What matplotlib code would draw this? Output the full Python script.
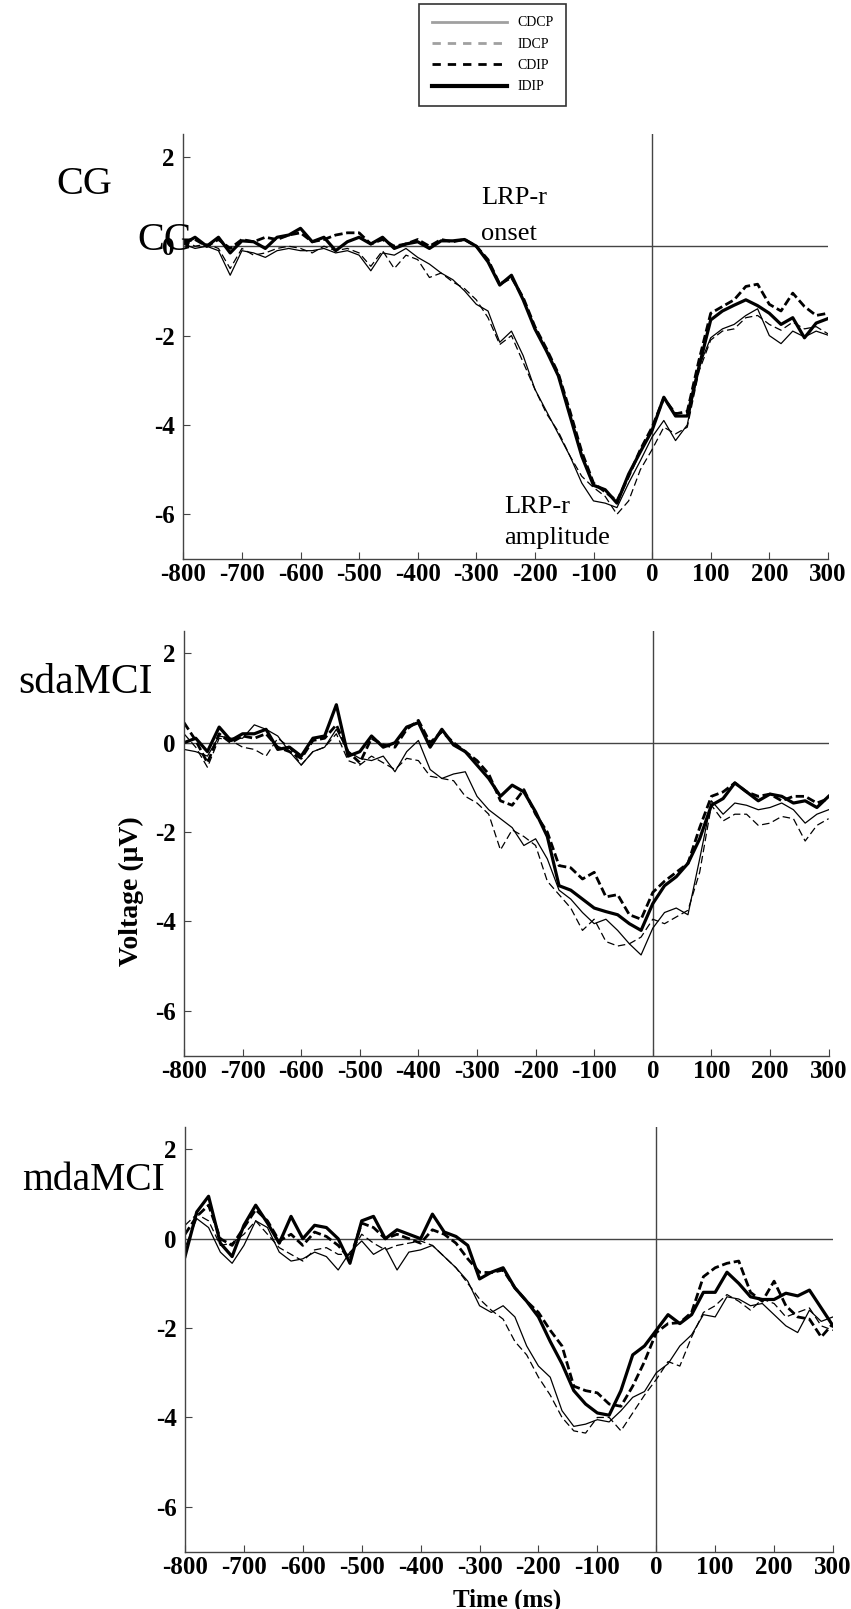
import numpy as np
import matplotlib.pyplot as plt
from matplotlib.lines import Line2D

plt.rcParams['font.family'] = ['Liberation Serif', 'DejaVu Serif']
plt.rcParams['axes.unicode_minus'] = False

# time axis (ms), response-locked
time_ms = np.arange(-800, 301, 20)

# ---- CG ----
cg_cdcp = [0.05, -0.05, 0.0, -0.1, -0.65, -0.1, -0.15, -0.25, -0.1, -0.05, -0.1, -0.1, -0.05, -0.15, -0.1, -0.2,
           -0.55, -0.15, -0.2, -0.05, -0.25, -0.4, -0.6, -0.75, -1.0, -1.3, -1.45, -2.15, -1.9, -2.45, -3.2, -3.7,
           -4.2, -4.7, -5.3, -5.7, -5.75, -5.85, -5.3, -4.8, -4.27, -3.9, -4.35, -4.0, -2.7, -2.05, -1.85, -1.75,
           -1.55, -1.4, -2.0, -2.18, -1.9, -2.03, -1.9, -1.99]
cg_idcp = [0.15, 0.0, 0.05, -0.05, -0.5, -0.05, -0.2, -0.15, -0.05, 0.0, -0.05, -0.15, 0.0, -0.1, -0.05, -0.15,
           -0.45, -0.1, -0.5, -0.2, -0.3, -0.7, -0.6, -0.8, -0.95, -1.2, -1.6, -2.2, -2.0, -2.6, -3.2, -3.75,
           -4.15, -4.7, -5.15, -5.4, -5.6, -6.0, -5.7, -5.0, -4.55, -4.05, -4.2, -4.05, -2.8, -2.1, -1.9, -1.85,
           -1.6, -1.55, -1.75, -1.88, -1.7, -1.85, -1.8, -1.96]
cg_cdip = [0.1, 0.15, 0.0, 0.15, -0.05, 0.15, 0.1, 0.2, 0.15, 0.25, 0.3, 0.1, 0.15, 0.25, 0.3, 0.3,
           0.05, 0.15, 0.0, 0.05, 0.15, 0.0, 0.15, 0.1, 0.15, 0.0, -0.3, -0.85, -0.7, -1.15, -1.8, -2.3,
           -2.85, -3.7, -4.6, -5.3, -5.5, -5.7, -5.15, -4.55, -4.05, -3.4, -3.75, -3.7, -2.55, -1.5, -1.35, -1.2,
           -0.9, -0.85, -1.3, -1.45, -1.05, -1.35, -1.55, -1.5]
cg_idip = [0.05, 0.2, 0.0, 0.2, -0.15, 0.12, 0.1, -0.05, 0.2, 0.25, 0.4, 0.1, 0.2, -0.1, 0.1, 0.2,
           0.05, 0.2, -0.05, 0.05, 0.1, -0.05, 0.12, 0.12, 0.15, 0.0, -0.35, -0.87, -0.65, -1.2, -1.85, -2.35,
           -2.9, -3.8, -4.7, -5.35, -5.45, -5.75, -5.1, -4.6, -4.12, -3.38, -3.8, -3.8, -2.7, -1.65, -1.45, -1.32,
           -1.2, -1.33, -1.5, -1.75, -1.6, -2.05, -1.72, -1.62]

# ---- sdaMCI ----
sda_cdcp = [-0.15, -0.2, -0.3, 0.15, 0.1, 0.1, 0.4, 0.3, 0.15, -0.2, -0.5, -0.2, -0.1, 0.3, -0.2, -0.35,
            -0.4, -0.3, -0.65, -0.2, 0.05, -0.6, -0.8, -0.7, -0.65, -1.2, -1.5, -1.7, -1.9, -2.3, -2.15, -2.6,
            -3.3, -3.5, -3.8, -4.05, -3.95, -4.2, -4.5, -4.75, -4.15, -3.8, -3.7, -3.85, -2.6, -1.3, -1.6, -1.35,
            -1.4, -1.5, -1.45, -1.35, -1.5, -1.8, -1.6, -1.5]
sda_idcp = [0.2, -0.1, -0.55, 0.1, 0.05, -0.1, -0.15, -0.3, 0.1, -0.1, -0.5, -0.2, -0.1, 0.2, -0.4, -0.5,
            -0.3, -0.45, -0.6, -0.35, -0.4, -0.75, -0.8, -0.85, -1.2, -1.35, -1.6, -2.4, -1.95, -2.1, -2.3, -3.1,
            -3.4, -3.7, -4.2, -3.95, -4.45, -4.55, -4.5, -4.35, -3.95, -4.05, -3.9, -3.75, -2.9, -1.4, -1.75, -1.6,
            -1.6, -1.85, -1.8, -1.65, -1.7, -2.2, -1.85, -1.7]
sda_cdip = [0.45, 0.05, -0.45, 0.2, 0.0, 0.15, 0.1, 0.2, -0.1, -0.2, -0.35, 0.05, 0.1, 0.4, -0.2, -0.45,
            0.1, -0.05, -0.1, 0.3, 0.5, 0.0, 0.25, 0.0, -0.2, -0.4, -0.7, -1.3, -1.4, -1.05, -1.6, -2.0,
            -2.75, -2.8, -3.05, -2.9, -3.45, -3.4, -3.85, -3.95, -3.35, -3.1, -2.9, -2.7, -1.9, -1.2, -1.1, -0.9,
            -1.1, -1.2, -1.15, -1.3, -1.2, -1.2, -1.35, -1.25]
sda_idip = [0.0, 0.1, -0.2, 0.35, 0.05, 0.2, 0.2, 0.3, -0.15, -0.1, -0.3, 0.1, 0.15, 0.85, -0.3, -0.2,
            0.15, -0.1, 0.0, 0.35, 0.45, -0.1, 0.3, -0.05, -0.2, -0.5, -0.8, -1.2, -0.95, -1.1, -1.55, -2.1,
            -3.2, -3.3, -3.5, -3.7, -3.78, -3.85, -4.05, -4.2, -3.6, -3.2, -3.0, -2.7, -2.15, -1.4, -1.25, -0.9,
            -1.1, -1.3, -1.15, -1.2, -1.35, -1.3, -1.45, -1.2]

# ---- mdaMCI ----
mda_cdcp = [-0.2, 0.45, 0.25, -0.3, -0.55, -0.15, 0.4, 0.25, -0.3, -0.5, -0.45, -0.3, -0.4, -0.7, -0.3, -0.05,
            -0.35, -0.2, -0.7, -0.3, -0.25, -0.15, -0.4, -0.65, -0.95, -1.5, -1.65, -1.5, -1.75, -2.4, -2.85, -3.1,
            -3.85, -4.2, -4.15, -4.05, -4.1, -3.85, -3.55, -3.42, -3.0, -2.8, -2.4, -2.15, -1.7, -1.75, -1.3, -1.35,
            -1.5, -1.45, -1.7, -1.95, -2.1, -1.6, -1.85, -1.75]
mda_idcp = [0.3, 0.55, 0.4, -0.15, -0.1, 0.1, 0.4, 0.1, -0.2, -0.35, -0.5, -0.25, -0.2, -0.35, -0.35, 0.1,
            -0.1, -0.25, -0.15, -0.1, -0.05, -0.15, -0.4, -0.65, -1.0, -1.35, -1.6, -1.8, -2.3, -2.6, -3.1, -3.5,
            -4.0, -4.3, -4.35, -4.0, -4.0, -4.3, -3.9, -3.5, -3.15, -2.75, -2.85, -2.2, -1.65, -1.5, -1.25, -1.4,
            -1.6, -1.35, -1.45, -1.75, -1.65, -1.55, -1.95, -2.05]
mda_cdip = [0.1, 0.5, 0.75, 0.0, -0.15, 0.25, 0.65, 0.4, -0.05, 0.1, -0.15, 0.15, 0.05, -0.15, -0.45, 0.35,
            0.25, 0.0, 0.1, 0.0, -0.1, 0.2, 0.1, -0.1, -0.45, -0.75, -0.76, -0.7, -1.1, -1.4, -1.65, -2.05,
            -2.4, -3.3, -3.4, -3.45, -3.7, -3.75, -3.3, -2.75, -2.1, -1.9, -1.88, -1.65, -0.85, -0.65, -0.55, -0.5,
            -1.2, -1.4, -0.95, -1.5, -1.75, -1.8, -2.2, -1.9]
mda_idip = [-0.4, 0.6, 0.95, -0.1, -0.4, 0.3, 0.75, 0.35, -0.1, 0.5, 0.0, 0.3, 0.25, 0.0, -0.55, 0.4,
            0.5, 0.0, 0.2, 0.1, 0.0, 0.55, 0.15, 0.05, -0.15, -0.9, -0.75, -0.65, -1.1, -1.4, -1.75, -2.3,
            -2.8, -3.4, -3.7, -3.9, -3.95, -3.4, -2.6, -2.4, -2.05, -1.7, -1.9, -1.7, -1.2, -1.2, -0.75, -1.0,
            -1.3, -1.36, -1.36, -1.22, -1.28, -1.15, -1.55, -1.95]

groups = ['CG', 'sdaMCI', 'mdaMCI']
conditions = ['CDCP', 'IDCP', 'CDIP', 'IDIP']
data = [[cg_cdcp, cg_idcp, cg_cdip, cg_idip],
        [sda_cdcp, sda_idcp, sda_cdip, sda_idip],
        [mda_cdcp, mda_idcp, mda_cdip, mda_idip]]

# line styles on the plots (all black)
styles = [dict(ls='-', lw=0.9), dict(ls=(0, (6, 3)), lw=0.9),
          dict(ls=(0, (3, 1.3)), lw=2.0), dict(ls='-', lw=2.3)]

W, H = 851, 1609
fig = plt.figure(figsize=(W / 100, H / 100), dpi=100)

rects = [[183.3 / W, 1 - 559 / H, 644.6 / W, 424.5 / H],
         [184.0 / W, 1 - 1055.5 / H, 644.6 / W, 424.5 / H],
         [185.0 / W, 1 - 1551.5 / H, 648.0 / W, 424.5 / H]]

for i in range(3):
    ax = fig.add_axes(rects[i])
    for vals, st in zip(data[i], styles):
        ax.plot(time_ms, vals, color='black', **st)
    ax.axhline(0, color='#444444', lw=1.0, zorder=0)
    ax.axvline(0, color='#444444', lw=1.0, zorder=0)
    ax.set_xlim(-800, 300)
    ax.set_ylim(-7, 2.5)
    ax.set_xticks(np.arange(-800, 301, 100))
    ax.set_yticks([-6, -4, -2, 0, 2])
    ax.tick_params(direction='in', length=5, width=0.8, color='#444444', labelsize=18)
    ax.tick_params(axis='x', pad=3)
    ax.tick_params(axis='y', pad=6)
    plt.setp(ax.get_xticklabels() + ax.get_yticklabels(), fontweight='bold')
    for s in ['top', 'right']:
        ax.spines[s].set_visible(False)
    for s in ['left', 'bottom']:
        ax.spines[s].set_color('#444444')
        ax.spines[s].set_linewidth(1.0)
    if i == 0:
        ax.text(-292, 1.07, 'LRP-r', fontsize=19, va='center', ha='left')
        ax.text(-292, 0.27, 'onset', fontsize=19, va='center', ha='left')
        ax.text(-252, -5.83, 'LRP-r', fontsize=19, va='center', ha='left')
        ax.text(-252, -6.52, 'amplitude', fontsize=19, va='center', ha='left')

# group labels
fig.text(56 / W, 1 - 185 / H, 'CG', fontsize=29, va='center', ha='left')
fig.text(137 / W, 1 - 240 / H, 'CG', fontsize=29, va='center', ha='left')
fig.text(18 / W, 1 - 683 / H, 'sdaMCI', fontsize=30, va='center', ha='left')
fig.text(22 / W, 1 - 1181 / H, 'mdaMCI', fontsize=28.5, va='center', ha='left')

fig.text(131 / W, 1 - 891 / H, 'Voltage (\u03bcV)', fontsize=20, fontweight='bold',
         rotation=90, va='center', ha='center')
fig.text(507 / W, 1 - 1600 / H, 'Time (ms)', fontsize=18, fontweight='bold',
         va='center', ha='center')

# legend
handles = [Line2D([], [], color='#a0a0a0', lw=2.0, ls='-'),
           Line2D([], [], color='#a0a0a0', lw=2.0, ls=(0, (3, 2.5))),
           Line2D([], [], color='black', lw=2.0, ls=(0, (3, 2.5))),
           Line2D([], [], color='black', lw=3.0, ls='-')]
leg = fig.legend(handles, conditions, loc='upper left', bbox_to_anchor=(419 / W, 1 - 4 / H),
                 borderaxespad=0, frameon=True, fancybox=False, edgecolor='black', fontsize=10,
                 handlelength=5.4, labelspacing=0.6, borderpad=0.9, handletextpad=0.8)
leg.get_frame().set_linewidth(1.2)

fig.savefig('out.png', dpi=100)
